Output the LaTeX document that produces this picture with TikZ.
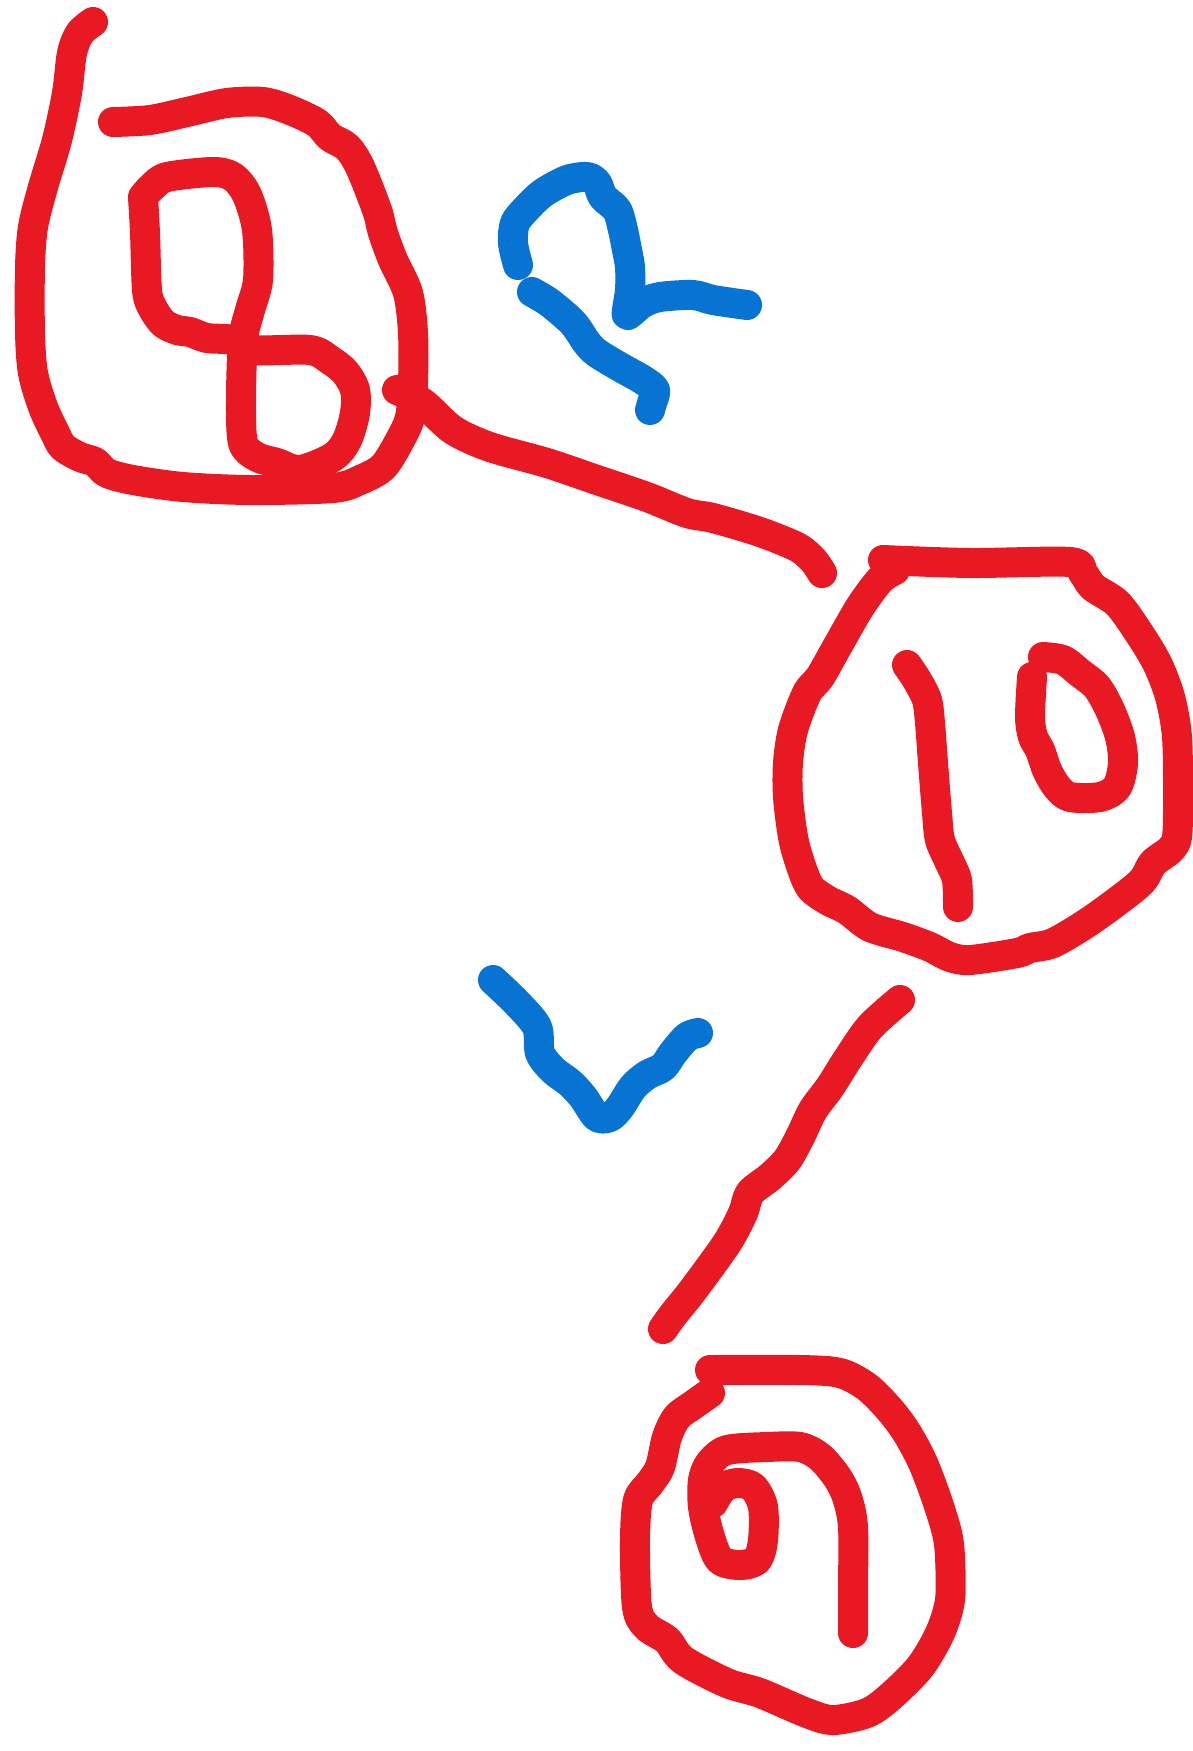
\documentclass[tikz,border=0pt]{standalone}
\usetikzlibrary{calc}
\definecolor{inkred}{RGB}{232,25,34}
\definecolor{inkblue}{RGB}{7,115,210}
\tikzset{
  sketch/.style={x=1pt,y=-1pt,line cap=round,line join=round},
  redink/.style={draw=inkred,line width=30pt},
  blueink/.style={draw=inkblue,line width=30pt},
}
\begin{document}
\begin{tikzpicture}[sketch]
  \useasboundingbox (0,0) rectangle (1192,1751);
  % connector end points
  \coordinate (e1s) at (397,390);
  \coordinate (e1t) at (822,573);
  \coordinate (e2s) at (900,1000);
  \coordinate (e2t) at (663,1329);
  % state 8 (top left)
  \draw[redink] plot[smooth,tension=0.5] coordinates {(93,22) (80,33) (72,53) (67,93) (57,140) (43,187) (33,227) (30,267) (30,333) (33,373) (43,407) (55,433) (63,447) (80,457) (95,462) (107,473) (133,480) (183,487) (250,490) (333,488) (360,480) (383,467) (400,440) (410,417) (413,383) (413,333) (408,293) (393,260) (383,233) (377,210) (360,167) (347,147) (330,137) (317,123) (290,110) (263,102) (227,103) (187,112) (150,120) (113,122)};
  \draw[redink] plot[smooth,tension=0.5] coordinates {(143,197) (145,233) (147,290) (152,307) (163,323) (177,330) (190,332) (207,338) (233,340) (253,350) (310,350) (330,360) (345,372) (355,390) (355,413) (347,440) (333,457) (300,470) (277,463) (257,457) (243,443) (241,400) (243,340) (250,310) (258,280) (257,230) (247,195) (233,177) (213,172) (167,177) (152,187) (143,197)};
  % edge 8 -> 10 with weight
  \draw[redink] plot[smooth,tension=0.5] coordinates {(e1s) (423,403) (453,430) (490,447) (547,463) (597,480) (647,497) (687,513) (713,518) (760,532) (797,547) (813,560) (e1t)};
  \draw[blueink] plot[smooth,tension=0.5] coordinates {(518,265) (513,243) (515,223) (527,208) (543,193) (567,180) (587,177) (597,183) (603,197) (617,210) (623,230) (627,250) (630,267) (630,290) (627,310) (628,315) (643,303) (660,297) (693,295) (713,300) (747,305)};
  \draw[blueink] plot[smooth,tension=0.5] coordinates {(532,292) (550,303) (573,323) (587,343) (597,353) (620,367) (643,380) (655,390) (652,403) (650,410)};
  % state 10 (right)
  \draw[redink] plot[smooth,tension=0.5] coordinates {(883,560) (970,563) (1070,562) (1083,573) (1093,587) (1117,603) (1137,630) (1157,663) (1170,697) (1177,737) (1178,797) (1177,837) (1170,850) (1153,863) (1143,880) (1123,897) (1087,923) (1053,943) (1030,948) (1017,953) (970,960) (950,957) (930,947) (903,937) (870,927) (847,910) (827,900) (810,887) (800,863) (793,837) (788,797) (788,763) (793,730) (807,693) (820,677) (837,647) (860,607) (880,580) (895,570)};
  \draw[redink] plot[smooth,tension=0.5] coordinates {(907,665) (917,680) (927,700) (930,723) (933,763) (937,813) (940,840) (950,863) (957,880) (958,907)};
  \draw[redink] plot[smooth,tension=0.5] coordinates {(1032,677) (1030,717) (1033,737) (1040,750) (1047,770) (1057,787) (1070,797) (1100,797) (1117,787) (1123,763) (1120,737) (1110,710) (1097,687) (1080,673) (1063,660) (1043,657)};
  % edge 10 -> bottom state with weight
  \draw[blueink] plot[smooth,tension=0.5] coordinates {(493,980) (517,1003) (537,1027) (540,1053) (553,1070) (570,1083) (583,1097) (597,1117) (610,1117) (620,1107) (633,1087) (647,1075) (663,1067) (673,1053) (687,1037) (698,1033)};
  \draw[redink] plot[smooth,tension=0.5] coordinates {(e2s) (870,1027) (847,1060) (830,1087) (813,1110) (800,1137) (787,1160) (770,1177) (750,1193) (743,1213) (727,1243) (693,1290) (673,1315) (e2t)};
  % bottom state
  \draw[redink] plot[smooth,tension=0.5] coordinates {(710,1370) (800,1370) (840,1373) (867,1387) (890,1410) (907,1433) (923,1463) (937,1500) (947,1533) (950,1557) (950,1600) (940,1633) (920,1667) (890,1697) (867,1713) (833,1720) (807,1713) (760,1693) (727,1683) (683,1660) (667,1640) (647,1627) (637,1607) (635,1540) (638,1500) (650,1483) (660,1467) (667,1437) (677,1417) (693,1405) (710,1393)};
  \draw[redink] plot[smooth,tension=0.5] coordinates {(853,1633) (853,1590) (853,1527) (847,1497) (837,1477) (820,1457) (800,1447) (767,1447) (727,1450) (710,1463) (703,1480) (703,1507) (710,1537) (720,1560) (740,1565) (757,1560) (763,1540) (763,1507) (753,1487) (737,1483) (723,1488) (713,1503)};
\end{tikzpicture}
\end{document}
